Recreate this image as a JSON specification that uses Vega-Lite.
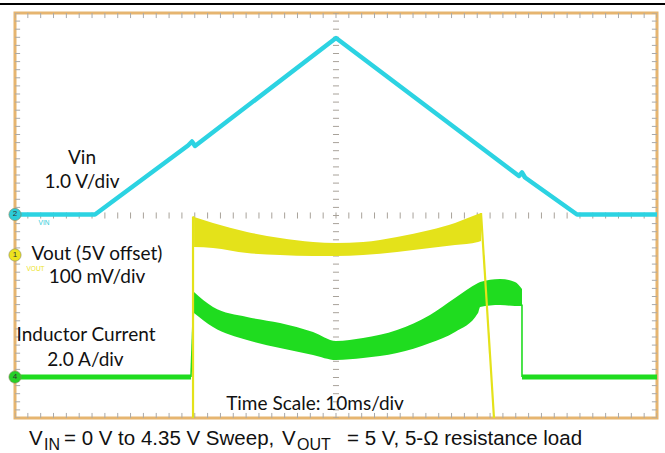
{
  "$schema": "https://vega.github.io/schema/vega-lite/v6.json",
  "width": 642,
  "height": 405,
  "autosize": {"type": "none"},
  "padding": {"left": 15, "top": 13, "right": 8, "bottom": 35},
  "background": "white",
  "config": {"view": {"stroke": "#e6b570", "strokeWidth": 3}},
  "datasets": {
    "pos": [{"p":0},{"p":0.2},{"p":0.4},{"p":0.6},{"p":0.8},{"p":1},{"p":1.2},{"p":1.4},{"p":1.6},{"p":1.8},{"p":2},{"p":2.2},{"p":2.4},{"p":2.6},{"p":2.8},{"p":3},{"p":3.2},{"p":3.4},{"p":3.6},{"p":3.8},{"p":4},{"p":4.2},{"p":4.4},{"p":4.6},{"p":4.8},{"p":5},{"p":5.2},{"p":5.4},{"p":5.6},{"p":5.8},{"p":6},{"p":6.2},{"p":6.4},{"p":6.6},{"p":6.8},{"p":7},{"p":7.2},{"p":7.4},{"p":7.6},{"p":7.8},{"p":8},{"p":8.2},{"p":8.4},{"p":8.6},{"p":8.8},{"p":9},{"p":9.2},{"p":9.4},{"p":9.6},{"p":9.8},{"p":10}],
    "vin": [{"t":0,"v":5.025},{"t":1.246,"v":5.025},{"t":2.695,"v":6.728},{"t":2.757,"v":6.827},{"t":2.804,"v":6.716},{"t":5.0,"v":9.383},{"t":7.85,"v":5.975},{"t":7.897,"v":6.062},{"t":7.944,"v":5.938},{"t":8.754,"v":5.025},{"t":10,"v":5.025}],
    "voutBand": [{"t":2.789,"hi":4.963,"lo":4.222},{"t":3.084,"hi":4.815,"lo":4.198},{"t":3.614,"hi":4.593,"lo":4.074},{"t":4.128,"hi":4.444,"lo":4.025},{"t":4.642,"hi":4.346,"lo":4.0},{"t":5.0,"hi":4.321,"lo":4.0},{"t":5.421,"hi":4.346,"lo":4.025},{"t":5.95,"hi":4.469,"lo":4.099},{"t":6.464,"hi":4.642,"lo":4.198},{"t":6.854,"hi":4.815,"lo":4.272},{"t":7.212,"hi":5.037,"lo":4.346},{"t":7.259,"hi":5.062,"lo":4.37}],
    "voutEdge": [{"seg":"rise","i":0,"t":2.773,"v":-0.2},{"seg":"rise","i":1,"t":2.773,"v":4.95},{"seg":"rise","i":2,"t":2.795,"v":4.963},{"seg":"fall","i":0,"t":7.259,"v":5.062},{"seg":"fall","i":1,"t":7.469,"v":-0.2}],
    "ilBand": [{"t":2.788,"hi":3.111,"lo":2.593},{"t":3.084,"hi":2.741,"lo":2.247},{"t":3.614,"hi":2.494,"lo":1.926},{"t":4.128,"hi":2.346,"lo":1.728},{"t":4.642,"hi":2.123,"lo":1.556},{"t":5.0,"hi":1.901,"lo":1.432},{"t":5.421,"hi":1.975,"lo":1.481},{"t":5.95,"hi":2.173,"lo":1.605},{"t":6.464,"hi":2.543,"lo":1.852},{"t":6.854,"hi":2.963,"lo":2.123},{"t":7.212,"hi":3.333,"lo":2.593},{"t":7.245,"hi":3.358,"lo":2.741},{"t":7.555,"hi":3.432,"lo":2.79},{"t":7.788,"hi":3.358,"lo":2.765},{"t":7.897,"hi":3.185,"lo":2.765}],
    "ilFlat": [{"seg":"a","t":0,"v":1.012},{"seg":"a","t":2.741,"v":1.012},{"seg":"b","t":7.897,"v":1.012},{"seg":"b","t":10,"v":1.012}],
    "ilEdge": [{"seg":"rise","i":0,"t":2.741,"v":1.012},{"seg":"rise","i":1,"t":2.788,"v":3.05},{"seg":"fall","i":0,"t":7.897,"v":2.8},{"seg":"fall","i":1,"t":7.897,"v":1.012}],
    "labels": [{"label":"Vin","t":1.044,"v":6.42},{"label":"1.0 V/div","t":1.044,"v":5.827},{"label":"Vout (5V offset)","t":1.277,"v":4.049},{"label":"100 mV/div","t":1.277,"v":3.481},{"label":"Inductor Current","t":1.106,"v":2.049},{"label":"2.0 A/div","t":1.098,"v":1.432},{"label":"Time Scale: 10ms/div","t":4.673,"v":0.346}],
    "chan": [{"ch":"2","t":0,"v":5.025},{"ch":"1","t":0,"v":4.025},{"ch":"4","t":0,"v":1.012}],
    "tags": [{"ch":"2","tag":"VIN","t":0.452,"v":4.815},{"ch":"1","tag":"VOUT","t":0.32,"v":3.68}],
    "topLine": [{"t":-0.234,"t2":10.125,"v":10.222}],
    "capMain": [{"s":"V","t":0.218},{"s":"= 0 V to 4.35 V Sweep,","t":0.763},{"s":"V","t":4.159},{"s":"= 5 V, 5-Ω resistance load","t":5.171}],
    "capSub": [{"s":"IN","t":0.452},{"s":"OUT","t":4.393}]
  },
  "layer": [
    {
      "data": {"name": "pos"},
      "mark": {"type": "rule", "color": "#a9a9a9", "strokeWidth": 1, "clip": true},
      "encoding": {
        "x": {"field": "p", "type": "quantitative", "scale": {"domain": [0, 10], "nice": false, "zero": false},
              "axis": {"values": [1,2,3,4,5,6,7,8,9], "grid": true, "gridColor": "#b4b4b4", "gridDash": [1.5, 6.6], "gridWidth": 1, "ticks": false, "labels": false, "domain": false, "title": null}},
        "y": {"datum": 10, "type": "quantitative", "scale": {"domain": [0, 10], "nice": false, "zero": false}},
        "y2": {"datum": 9.875}
      }
    },
    {
      "data": {"name": "pos"},
      "mark": {"type": "rule", "color": "#a9a9a9", "strokeWidth": 1, "clip": true},
      "encoding": {
        "x": {"field": "p", "type": "quantitative", "scale": {"domain": [0, 10], "nice": false, "zero": false}, "axis": null},
        "y": {"datum": 0, "type": "quantitative", "scale": {"domain": [0, 10], "nice": false, "zero": false}},
        "y2": {"datum": 0.125}
      }
    },
    {
      "data": {"name": "pos"},
      "mark": {"type": "rule", "color": "#a9a9a9", "strokeWidth": 1, "clip": true},
      "encoding": {
        "y": {"field": "p", "type": "quantitative", "scale": {"domain": [0, 10], "nice": false, "zero": false},
              "axis": {"values": [1,2,3,4,5,6,7,8,9], "grid": true, "gridColor": "#b4b4b4", "gridDash": [1.5, 11.34], "gridWidth": 1, "ticks": false, "labels": false, "domain": false, "title": null}},
        "x": {"datum": 0, "type": "quantitative", "scale": {"domain": [0, 10], "nice": false, "zero": false}},
        "x2": {"datum": 0.08}
      }
    },
    {
      "data": {"name": "pos"},
      "mark": {"type": "rule", "color": "#a9a9a9", "strokeWidth": 1, "clip": true},
      "encoding": {
        "y": {"field": "p", "type": "quantitative", "scale": {"domain": [0, 10], "nice": false, "zero": false}, "axis": null},
        "x": {"datum": 10, "type": "quantitative", "scale": {"domain": [0, 10], "nice": false, "zero": false}},
        "x2": {"datum": 9.92}
      }
    },
    {
      "data": {"name": "pos"},
      "mark": {"type": "rule", "color": "#a8a29a", "strokeWidth": 1, "clip": true},
      "encoding": {
        "x": {"field": "p", "type": "quantitative", "scale": {"domain": [0, 10], "nice": false, "zero": false}, "axis": null},
        "y": {"datum": 4.925, "type": "quantitative", "scale": {"domain": [0, 10], "nice": false, "zero": false}},
        "y2": {"datum": 5.075}
      }
    },
    {
      "data": {"name": "pos"},
      "mark": {"type": "rule", "color": "#a8a29a", "strokeWidth": 1, "clip": true},
      "encoding": {
        "y": {"field": "p", "type": "quantitative", "scale": {"domain": [0, 10], "nice": false, "zero": false}, "axis": null},
        "x": {"datum": 4.953, "type": "quantitative", "scale": {"domain": [0, 10], "nice": false, "zero": false}},
        "x2": {"datum": 5.047}
      }
    },
    {
      "mark": {"type": "rule", "color": "#a8a29a", "strokeWidth": 1},
      "encoding": {"x": {"datum": 5, "type": "quantitative", "scale": {"domain": [0, 10], "nice": false, "zero": false}, "axis": null}}
    },
    {
      "mark": {"type": "rule", "color": "#a8a29a", "strokeWidth": 1},
      "encoding": {"y": {"datum": 5, "type": "quantitative", "scale": {"domain": [0, 10], "nice": false, "zero": false}, "axis": null}}
    },
    {
      "data": {"name": "ilBand"},
      "mark": {"type": "area", "color": "#1fdc1f", "opacity": 1, "interpolate": "monotone", "clip": true},
      "encoding": {
        "x": {"field": "t", "type": "quantitative", "scale": {"domain": [0, 10], "nice": false, "zero": false}, "axis": null},
        "y": {"field": "hi", "type": "quantitative", "scale": {"domain": [0, 10], "nice": false, "zero": false}, "axis": null},
        "y2": {"field": "lo"}
      }
    },
    {
      "data": {"name": "ilFlat"},
      "mark": {"type": "line", "color": "#1fdc1f", "strokeWidth": 5, "clip": true},
      "encoding": {
        "x": {"field": "t", "type": "quantitative", "scale": {"domain": [0, 10], "nice": false, "zero": false}, "axis": null},
        "y": {"field": "v", "type": "quantitative", "scale": {"domain": [0, 10], "nice": false, "zero": false}, "axis": null},
        "detail": {"field": "seg"}
      }
    },
    {
      "data": {"name": "ilEdge"},
      "mark": {"type": "line", "color": "#1fdc1f", "strokeWidth": 1.6, "clip": true},
      "encoding": {
        "x": {"field": "t", "type": "quantitative", "scale": {"domain": [0, 10], "nice": false, "zero": false}, "axis": null},
        "y": {"field": "v", "type": "quantitative", "scale": {"domain": [0, 10], "nice": false, "zero": false}, "axis": null},
        "detail": {"field": "seg"},
        "order": {"field": "i"}
      }
    },
    {
      "data": {"name": "voutBand"},
      "mark": {"type": "area", "color": "#e4e21a", "opacity": 1, "interpolate": "monotone", "clip": true},
      "encoding": {
        "x": {"field": "t", "type": "quantitative", "scale": {"domain": [0, 10], "nice": false, "zero": false}, "axis": null},
        "y": {"field": "hi", "type": "quantitative", "scale": {"domain": [0, 10], "nice": false, "zero": false}, "axis": null},
        "y2": {"field": "lo"}
      }
    },
    {
      "data": {"name": "voutEdge"},
      "mark": {"type": "line", "color": "#e4e21a", "strokeWidth": 2.2, "clip": true},
      "encoding": {
        "x": {"field": "t", "type": "quantitative", "scale": {"domain": [0, 10], "nice": false, "zero": false}, "axis": null},
        "y": {"field": "v", "type": "quantitative", "scale": {"domain": [0, 10], "nice": false, "zero": false}, "axis": null},
        "detail": {"field": "seg"},
        "order": {"field": "i"}
      }
    },
    {
      "data": {"name": "vin"},
      "mark": {"type": "line", "color": "#2cd3e2", "strokeWidth": 4.5, "strokeJoin": "round", "clip": true},
      "encoding": {
        "x": {"field": "t", "type": "quantitative", "scale": {"domain": [0, 10], "nice": false, "zero": false}, "axis": null},
        "y": {"field": "v", "type": "quantitative", "scale": {"domain": [0, 10], "nice": false, "zero": false}, "axis": null}
      }
    },
    {
      "data": {"name": "labels"},
      "mark": {"type": "text", "font": "Lato", "fontSize": 19, "color": "#111111", "align": "center", "baseline": "middle"},
      "encoding": {
        "x": {"field": "t", "type": "quantitative", "scale": {"domain": [0, 10], "nice": false, "zero": false}, "axis": null},
        "y": {"field": "v", "type": "quantitative", "scale": {"domain": [0, 10], "nice": false, "zero": false}, "axis": null},
        "text": {"field": "label"}
      }
    },
    {
      "data": {"name": "chan"},
      "mark": {"type": "point", "shape": "circle", "filled": true, "size": 150, "opacity": 1, "stroke": "#8a8a60", "strokeWidth": 0.6, "clip": false},
      "encoding": {
        "x": {"field": "t", "type": "quantitative", "scale": {"domain": [0, 10], "nice": false, "zero": false}, "axis": null},
        "y": {"field": "v", "type": "quantitative", "scale": {"domain": [0, 10], "nice": false, "zero": false}, "axis": null},
        "color": {"field": "ch", "type": "nominal", "scale": {"domain": ["1", "2", "4"], "range": ["#ece31e", "#2ccbd8", "#28d028"]}, "legend": null}
      }
    },
    {
      "data": {"name": "chan"},
      "mark": {"type": "text", "font": "Liberation Sans", "fontSize": 8, "color": "#333333", "align": "center", "baseline": "middle", "clip": false},
      "encoding": {
        "x": {"field": "t", "type": "quantitative", "scale": {"domain": [0, 10], "nice": false, "zero": false}, "axis": null},
        "y": {"field": "v", "type": "quantitative", "scale": {"domain": [0, 10], "nice": false, "zero": false}, "axis": null},
        "text": {"field": "ch"}
      }
    },
    {
      "data": {"name": "tags"},
      "mark": {"type": "text", "font": "Liberation Sans", "fontSize": 6.5, "align": "center", "baseline": "middle"},
      "encoding": {
        "x": {"field": "t", "type": "quantitative", "scale": {"domain": [0, 10], "nice": false, "zero": false}, "axis": null},
        "y": {"field": "v", "type": "quantitative", "scale": {"domain": [0, 10], "nice": false, "zero": false}, "axis": null},
        "text": {"field": "tag"},
        "color": {"field": "ch", "type": "nominal", "scale": {"domain": ["1", "2", "4"], "range": ["#ece31e", "#2ccbd8", "#28d028"]}, "legend": null}
      }
    },
    {
      "mark": {"type": "point", "shape": "triangle-right", "filled": true, "size": 22, "color": "#ece31e", "opacity": 1},
      "encoding": {
        "x": {"datum": 0.12, "type": "quantitative", "scale": {"domain": [0, 10], "nice": false, "zero": false}, "axis": null},
        "y": {"datum": 4.025, "type": "quantitative", "scale": {"domain": [0, 10], "nice": false, "zero": false}, "axis": null}
      }
    },
    {
      "mark": {"type": "point", "shape": "triangle-down", "filled": true, "size": 45, "color": "#f0a030", "opacity": 1, "clip": false},
      "encoding": {
        "x": {"datum": 4.128, "type": "quantitative", "scale": {"domain": [0, 10], "nice": false, "zero": false}, "axis": null},
        "y": {"datum": 10.05, "type": "quantitative", "scale": {"domain": [0, 10], "nice": false, "zero": false}, "axis": null}
      }
    },
    {
      "mark": {"type": "rule", "color": "#2cd3e2", "strokeWidth": 2},
      "encoding": {
        "x": {"datum": 9.88, "type": "quantitative", "scale": {"domain": [0, 10], "nice": false, "zero": false}, "axis": null},
        "x2": {"datum": 10},
        "y": {"datum": 8.148, "type": "quantitative", "scale": {"domain": [0, 10], "nice": false, "zero": false}, "axis": null}
      }
    },
    {
      "mark": {"type": "point", "shape": "triangle-left", "filled": true, "size": 30, "color": "#2cd3e2", "opacity": 1},
      "encoding": {
        "x": {"datum": 9.87, "type": "quantitative", "scale": {"domain": [0, 10], "nice": false, "zero": false}, "axis": null},
        "y": {"datum": 8.148, "type": "quantitative", "scale": {"domain": [0, 10], "nice": false, "zero": false}, "axis": null}
      }
    },
    {
      "data": {"name": "capMain"},
      "mark": {"type": "text", "font": "Liberation Sans", "fontSize": 20.5, "color": "#111111", "align": "left", "baseline": "alphabetic", "clip": false},
      "encoding": {
        "x": {"field": "t", "type": "quantitative", "scale": {"domain": [0, 10], "nice": false, "zero": false}, "axis": null},
        "y": {"datum": -0.667, "type": "quantitative", "scale": {"domain": [0, 10], "nice": false, "zero": false}, "axis": null},
        "text": {"field": "s"}
      }
    },
    {
      "data": {"name": "capSub"},
      "mark": {"type": "text", "font": "Liberation Sans", "fontSize": 16, "color": "#111111", "align": "left", "baseline": "alphabetic", "clip": false},
      "encoding": {
        "x": {"field": "t", "type": "quantitative", "scale": {"domain": [0, 10], "nice": false, "zero": false}, "axis": null},
        "y": {"datum": -0.79, "type": "quantitative", "scale": {"domain": [0, 10], "nice": false, "zero": false}, "axis": null},
        "text": {"field": "s"}
      }
    },
    {
      "data": {"name": "topLine"},
      "mark": {"type": "rule", "color": "#000000", "strokeWidth": 2.2, "clip": false},
      "encoding": {
        "x": {"field": "t", "type": "quantitative", "scale": {"domain": [0, 10], "nice": false, "zero": false}, "axis": null},
        "x2": {"field": "t2"},
        "y": {"field": "v", "type": "quantitative", "scale": {"domain": [0, 10], "nice": false, "zero": false}, "axis": null}
      }
    }
  ]
}
